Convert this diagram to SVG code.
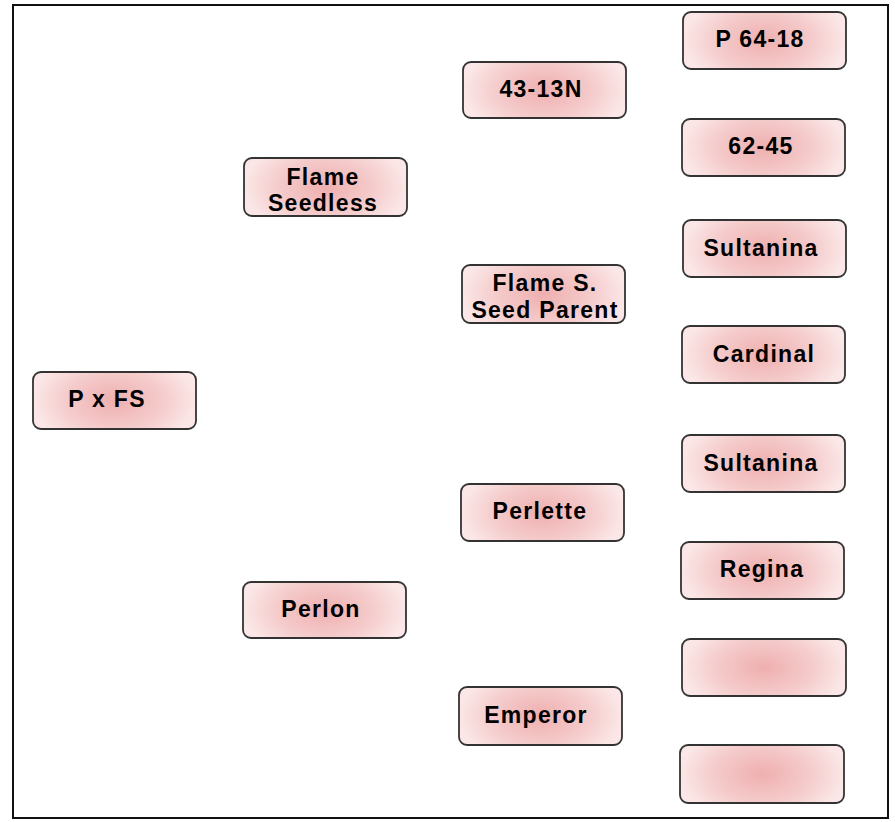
<svg xmlns="http://www.w3.org/2000/svg" width="895" height="822" viewBox="0 0 895 822">
  <defs>
    <!-- soft pink fill, lighter towards the left and right ends -->
    <radialGradient id="nodeFill" cx="0.5" cy="0.5" r="0.5" gradientTransform="translate(0.5 0.5) scale(1 1.7) translate(-0.5 -0.5)">
      <stop offset="0" stop-color="#efafaf"/>
      <stop offset="0.6" stop-color="#f5cccc"/>
      <stop offset="1" stop-color="#fbe7e7"/>
    </radialGradient>
  </defs>
  <style>
    .box { fill: url(#nodeFill); stroke: #333333; stroke-width: 1.8; }
    .lbl { font-family: "Liberation Sans", Arial, sans-serif; font-weight: bold; font-size: 23px; letter-spacing: 1.3px; fill: #000; text-anchor: middle; }
  </style>
  <rect width="895" height="822" fill="#ffffff"/>
  <!-- outer frame -->
  <rect x="13" y="5" width="875" height="813" fill="none" stroke="#111" stroke-width="2"/>

  <g id="connectors"></g>

  <!-- generation 0 -->
  <g id="n-pxfs">
    <rect class="box" x="33" y="372" width="163" height="57" rx="8"/>
    <text class="lbl" x="107" y="407">P x FS</text>
  </g>

  <!-- generation 1 -->
  <g id="n-flame-seedless">
    <rect class="box" x="244" y="158" width="163" height="58" rx="8"/>
    <text class="lbl" x="323" y="185">Flame</text>
    <text class="lbl" x="323" y="211">Seedless</text>
  </g>
  <g id="n-perlon">
    <rect class="box" x="243" y="582" width="163" height="56" rx="8"/>
    <text class="lbl" x="321" y="617">Perlon</text>
  </g>

  <!-- generation 2 -->
  <g id="n-4313n">
    <rect class="box" x="463" y="62" width="163" height="56" rx="8"/>
    <text class="lbl" x="541" y="97">43-13N</text>
  </g>
  <g id="n-flame-s-seed-parent">
    <rect class="box" x="462" y="265" width="163" height="58" rx="8"/>
    <text class="lbl" x="545" y="291">Flame S.</text>
    <text class="lbl" x="545" y="318">Seed Parent</text>
  </g>
  <g id="n-perlette">
    <rect class="box" x="461" y="484" width="163" height="57" rx="8"/>
    <text class="lbl" x="540" y="519">Perlette</text>
  </g>
  <g id="n-emperor">
    <rect class="box" x="459" y="687" width="163" height="58" rx="8"/>
    <text class="lbl" x="536" y="723">Emperor</text>
  </g>

  <!-- generation 3 -->
  <g id="n-p6418">
    <rect class="box" x="683" y="12" width="163" height="57" rx="8"/>
    <text class="lbl" x="760" y="47">P 64-18</text>
  </g>
  <g id="n-6245">
    <rect class="box" x="682" y="119" width="163" height="57" rx="8"/>
    <text class="lbl" x="761" y="154">62-45</text>
  </g>
  <g id="n-sultanina-1">
    <rect class="box" x="683" y="220" width="163" height="57" rx="8"/>
    <text class="lbl" x="761" y="256">Sultanina</text>
  </g>
  <g id="n-cardinal">
    <rect class="box" x="682" y="326" width="163" height="57" rx="8"/>
    <text class="lbl" x="764" y="362">Cardinal</text>
  </g>
  <g id="n-sultanina-2">
    <rect class="box" x="682" y="435" width="163" height="57" rx="8"/>
    <text class="lbl" x="761" y="471">Sultanina</text>
  </g>
  <g id="n-regina">
    <rect class="box" x="681" y="542" width="163" height="57" rx="8"/>
    <text class="lbl" x="762" y="577">Regina</text>
  </g>
  <g id="n-blank-1">
    <rect class="box" x="682" y="639" width="164" height="57" rx="8"/>
  </g>
  <g id="n-blank-2">
    <rect class="box" x="680" y="745" width="164" height="58" rx="8"/>
  </g>
</svg>
